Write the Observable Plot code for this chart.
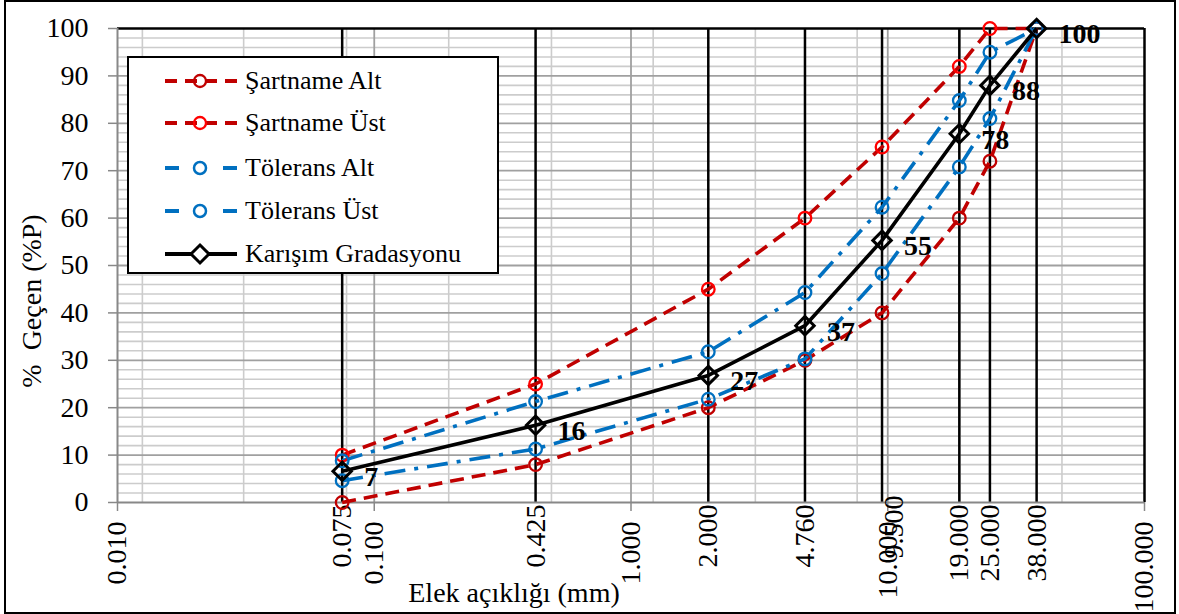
<!DOCTYPE html>
<html>
<head>
<meta charset="utf-8">
<script src="https://cdn.jsdelivr.net/npm/d3@7"></script>
<script src="https://cdn.jsdelivr.net/npm/@observablehq/plot@0.6"></script>
<style>
  body { margin: 0; background: #fff; font-family: "Liberation Serif", "Times New Roman", serif; }
  #wrap { position: relative; width: 1179px; height: 614px; overflow: hidden; }
  #border { position: absolute; left: 4px; top: 0px; width: 1172px; height: 614px; border: 2px solid #000; box-sizing: border-box; pointer-events: none; }
  #legend { position: absolute; left: 127px; top: 56px; width: 372px; height: 218px; border: 2px solid #000; background: #fff; box-sizing: border-box; }
  .row { position: absolute; left: 36px; height: 34px; display: flex; align-items: center; font-size: 26px; color: #000; white-space: nowrap; }
  .row svg { margin-right: 8px; }
  .title { position: absolute; font-size: 28px; color: #000; white-space: nowrap; }
  #ytitle { left: 32px; top: 301px; transform: translate(-50%, -50%) rotate(-90deg); }
  #xtitle { left: 514px; top: 593px; transform: translate(-50%, -50%); }
</style>
</head>
<body>
<div id="wrap">
  <div id="chart"></div>
  <div id="legend"></div>
  <div class="title" id="ytitle">%&nbsp;&nbsp;Geçen (%P)</div>
  <div class="title" id="xtitle">Elek açıklığı (mm)</div>
  <div id="border"></div>
</div>
<script>
// ---------- data ----------
const sieves = [0.075, 0.425, 2, 4.76, 9.5, 19, 25, 38];
const sieveLabels = ["0.075", "0.425", "2.000", "4.760", "9.500", "19.000", "25.000", "38.000"];
const sartnameAlt = [0, 8, 20, 30, 40, 60, 72, 100];
const sartnameUst = [10, 25, 45, 60, 75, 92, 100, 100];
const toleransAlt = [4.6, 11.3, 21.8, 30.3, 48.3, 70.8, 81, 100];
const toleransUst = [8.8, 21.3, 31.8, 44.3, 62.3, 84.8, 95, 100];
const karisim = [6.6, 16.3, 26.8, 37.3, 55.3, 77.8, 88, 100];
const karisimLabels = ["7", "16", "27", "37", "55", "78", "88", "100"];
const seriesNames = ["Şartname Alt", "Şartname Üst", "Tölerans Alt", "Tölerans Üst", "Karışım Gradasyonu"];
const decadeTicks = [0.01, 0.1, 1, 10, 100];
const decadeLabels = ["0.010", "0.100", "1.000", "10.000", "100.000"];
const yTicks = [0, 10, 20, 30, 40, 50, 60, 70, 80, 90, 100];
const yMinorGrid = [2, 4, 6, 8, 12, 14, 16, 18, 22, 24, 26, 28, 32, 34, 36, 38, 42, 44, 46, 48, 52, 54, 56, 58, 62, 64, 66, 68, 72, 74, 76, 78, 82, 84, 86, 88, 92, 94, 96, 98];
const yMajorGrid = [10, 20, 30, 40, 50, 60, 70, 80, 90];
const xMinorGrid = [0.0125, 0.031, 0.078, 0.195, 0.49, 1.22, 3.05, 7.6, 19.1, 47.7];
const xMajorGrid = [0.1, 1, 10];

// ---------- styles ----------
const DRED = "#C00000", RED = "#FF0000", BLUE = "#0070C0";
const style = {
  "Şartname Alt": {stroke: DRED, dash: "14,8", marker: DRED},
  "Şartname Üst": {stroke: DRED, dash: "14,8", marker: RED},
  "Tölerans Alt": {stroke: BLUE, dash: "21,9,4,9", marker: BLUE},
  "Tölerans Üst": {stroke: BLUE, dash: "21,9,4,9", marker: BLUE},
  "Karışım Gradasyonu": {stroke: "#000", dash: null, marker: "#000"}
};
const valuesBySeries = [sartnameAlt, sartnameUst, toleransAlt, toleransUst, karisim];
const rows = [];
seriesNames.forEach((name, k) => sieves.forEach((s, i) => rows.push({series: name, size: s, pass: valuesBySeries[k][i]})));
const labelRows = sieves.map((s, i) => ({size: s, pass: karisim[i], label: karisimLabels[i]}));
const sieveRows = sieves.map((s, i) => ({size: s, label: sieveLabels[i]}));

const marks = [
  Plot.ruleY(yMinorGrid, {stroke: "#cccccc", strokeWidth: 1.6}),
  Plot.ruleX(xMinorGrid, {stroke: "#cccccc", strokeWidth: 1.6}),
  Plot.ruleY(yMajorGrid, {stroke: "#a0a0a0", strokeWidth: 1.8}),
  Plot.ruleX(xMajorGrid, {stroke: "#a0a0a0", strokeWidth: 1.8}),
  Plot.ruleX(sieves, {stroke: "#000", strokeWidth: 2.5}),
  Plot.ruleY([100], {stroke: "#000", strokeWidth: 2.5}),
  Plot.ruleX([100], {stroke: "#000", strokeWidth: 2.5}),
  Plot.ruleY([0], {stroke: "#888888", strokeWidth: 2}),
  Plot.ruleX([0.01], {stroke: "#888888", strokeWidth: 2}),
  Plot.axisY(yTicks, {tickSize: 9, tickPadding: 20, stroke: "#888888", strokeWidth: 1.5, tickFormat: d => String(d), fontSize: 28, fill: "#000"}),
  Plot.axisX(decadeTicks, {tickSize: 9, tickPadding: 10, tickRotate: -90, stroke: "#888888", strokeWidth: 1.5, tickFormat: d => decadeLabels[decadeTicks.indexOf(d)], fontSize: 28, fill: "#000"}),
  // sieve-size labels (the 9.500 label sits offset beside 10.000, as in the original)
  Plot.text(sieveRows.filter(d => d.size !== 9.5), {x: "size", frameAnchor: "bottom", dy: 2, dx: 9, rotate: -90, textAnchor: "end", text: "label", fontSize: 28, fill: "#000"}),
  Plot.text(sieveRows.filter(d => d.size === 9.5), {x: "size", frameAnchor: "bottom", dy: -7, dx: 21, rotate: -90, textAnchor: "end", text: "label", fontSize: 28, fill: "#000"})
];
seriesNames.forEach(name => {
  const st = style[name];
  const data = rows.filter(d => d.series === name);
  marks.push(Plot.line(data, {x: "size", y: "pass", stroke: st.stroke, strokeWidth: 3.6, strokeDasharray: st.dash || undefined, strokeLinecap: "butt"}));
});
seriesNames.forEach(name => {
  const st = style[name];
  const data = rows.filter(d => d.series === name);
  if (name === "Karışım Gradasyonu") {
    marks.push(Plot.dot(data, {x: "size", y: "pass", symbol: "diamond2", r: 8.3, stroke: "#000", strokeWidth: 3, fill: "none"}));
  } else {
    marks.push(Plot.dot(data, {x: "size", y: "pass", r: 6.3, stroke: st.marker, strokeWidth: 2.3, fill: "none"}));
  }
});
marks.push(Plot.text(labelRows, {x: "size", y: "pass", text: "label", dx: 22, dy: 6, textAnchor: "start", fontWeight: "bold", fontSize: 28, fill: "#000"}));

const chart = Plot.plot({
  width: 1179,
  height: 614,
  marginLeft: 117,
  marginRight: 35,
  marginTop: 28,
  marginBottom: 112,
  style: {fontFamily: "'Liberation Serif', 'Times New Roman', serif", fontSize: "28px", background: "transparent", color: "#000"},
  x: {type: "log", domain: [0.01, 100], label: null},
  y: {domain: [0, 100], label: null},
  marks
});
document.getElementById("chart").appendChild(chart);

// ---------- legend ----------
const legend = document.getElementById("legend");
const rowTops = [23, 65, 110, 153, 196];
seriesNames.forEach((name, k) => {
  const st = style[name];
  const row = document.createElement("div");
  row.className = "row";
  row.style.top = (rowTops[k] - 17) + "px";
  let sw = "";
  if (name.startsWith("Şartname")) {
    sw = `<line x1="0" y1="10" x2="72" y2="10" stroke="${st.stroke}" stroke-width="4" stroke-dasharray="12,8"/>` +
         `<circle cx="35" cy="10" r="6" fill="none" stroke="${st.marker}" stroke-width="2.3"/>`;
  } else if (name.startsWith("Tölerans")) {
    sw = `<line x1="0" y1="10" x2="14" y2="10" stroke="${st.stroke}" stroke-width="4"/>` +
         `<line x1="58" y1="10" x2="72" y2="10" stroke="${st.stroke}" stroke-width="4"/>` +
         `<circle cx="35" cy="10" r="6" fill="none" stroke="${st.marker}" stroke-width="2.5"/>`;
  } else {
    sw = `<line x1="0" y1="10" x2="72" y2="10" stroke="#000" stroke-width="4"/>` +
         `<path d="M35,1 L44,10 L35,19 L26,10 Z" fill="white" stroke="#000" stroke-width="3"/>`;
  }
  row.innerHTML = `<svg width="72" height="20" style="overflow:visible">${sw}</svg><span>${name}</span>`;
  legend.appendChild(row);
});
</script>
</body>
</html>
